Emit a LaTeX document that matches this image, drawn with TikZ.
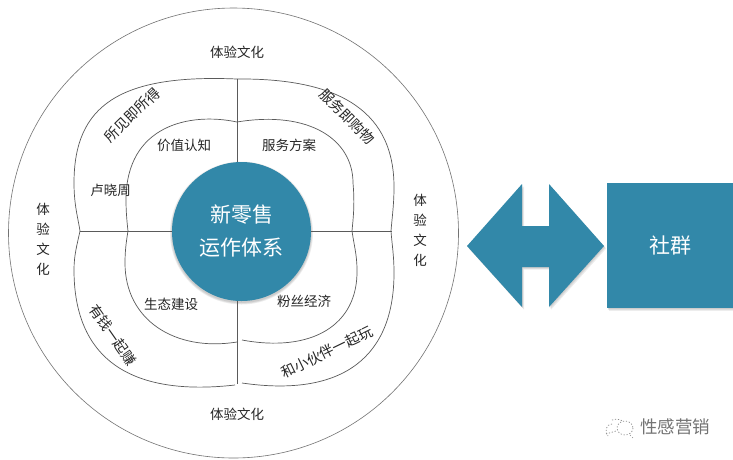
\documentclass[tikz,border=0pt]{standalone}
\usepackage{fontspec}
\setmainfont{Noto Sans CJK SC}
\definecolor{teal1}{HTML}{3288A9}
\definecolor{ln}{HTML}{5A5A5A}
\tikzset{
  x=1pt,y=-1pt,
  lbl/.style={font=\fontsize{13.5}{15}\selectfont,text=black!85,inner sep=0pt},
  rlbl/.style={font=\fontsize{14.2}{15}\selectfont,text=black!85,inner sep=0pt},
  big/.style={font=\fontsize{21}{34}\selectfont,text=white,align=center},
  curve/.style={draw=ln,line width=0.7pt},
  spoke/.style={draw=ln,line width=0.8pt},
  sh1/.style={fill=black,opacity=0.07,draw=none},
  fillt/.style={fill=teal1,draw=none}
}
\begin{document}
\begin{tikzpicture}
\useasboundingbox (0,0) rectangle (733,459);
\fill[white] (0,0) rectangle (733,459);
% outer circle
\node[circle,draw=ln!85,line width=0.6pt,minimum size=450pt,inner sep=0pt] (outer) at (233.5,233) {};
% central shadow and disc
\foreach \d in {5,3,1}{\fill[sh1] (241.5,233) circle (69.5+\d*0.4);}
\node[circle,fillt,minimum size=139pt,inner sep=0pt,big] (core) at (241.5,231.5) {新零售\\[-1pt]运作体系};
% junction coordinates
\coordinate (T) at (237,79);
\coordinate (B) at (237,384);
\coordinate (L) at (80,231);
\coordinate (R) at (392,231);
\coordinate (CT) at (237,162);
\coordinate (CB) at (237,301);
\coordinate (CL) at (172,231);
\coordinate (CR) at (311,231);
% spokes
\draw[spoke] (CT) -- (T);
\draw[spoke] (CB) -- (B);
\draw[spoke] (CL) -- (L);
\draw[spoke] (CR) -- (R);
% outer quadrants
\draw[curve] (T) .. controls (120,74) and (74,105) .. (74,183) .. controls (74,205) and (78,218) .. (80,231);
\draw[curve] (T) .. controls (345,78) and (394,115) .. (394,187) .. controls (394,205) and (392,218) .. (391,231);
\draw[curve] (391,231) .. controls (392,245) and (394,255) .. (394,273) .. controls (394,355) and (345,398) .. (242,383);
\draw[curve] (L) .. controls (77,245) and (74,255) .. (74,270) .. controls (74,350) and (120,398) .. (235,385);
% inner quadrants
\draw[curve] (237,122) .. controls (190,112) and (126,125) .. (126,200) .. controls (126,212) and (127,222) .. (128,231);
\draw[curve] (237,122) .. controls (310,110) and (353,140) .. (353,183) .. controls (355,205) and (353,220) .. (352,231);
\draw[curve] (352,231) .. controls (354,245) and (357,255) .. (357,270) .. controls (358,325) and (312,353) .. (242,340);
\draw[curve] (128,231) .. controls (126,243) and (125,252) .. (125,263) .. controls (125,320) and (175,352) .. (237,342);
% labels
\node[lbl] (t1) at (237,52.5) {体验文化};
\node[lbl] (t2) at (237,414) {体验文化};
\node[lbl,align=center,font=\fontsize{13.5}{20}\selectfont] (t3) at (43,239) {体\\验\\文\\化};
\node[lbl,align=center,font=\fontsize{13.5}{20}\selectfont] (t4) at (420,230) {体\\验\\文\\化};
\node[rlbl,rotate=44] (a1) at (132,115) {所见即所得};
\node[rlbl,rotate=-45] (a2) at (347,117) {服务即购物};
\node[rlbl,rotate=-55] (a3) at (113,335) {有钱一起赚};
\node[rlbl,rotate=26] (a4) at (327,352) {和小伙伴一起玩};
\node[lbl] (b0) at (110.5,190) {卢晓周};
\node[lbl] (b1) at (184,145) {价值认知};
\node[lbl] (b2) at (289,145) {服务方案};
\node[lbl] (b3) at (171,304) {生态建设};
\node[lbl] (b4) at (304,301) {粉丝经济};
% double arrow
\def\arrowpath{(467,246) -- (522,184) -- (522,226) -- (549,226) -- (549,184) -- (604,246) -- (549,307) -- (549,267) -- (522,267) -- (522,307) -- cycle}
\foreach \d in {3,2,1}{\fill[sh1,shift={(\d*0.7,\d*0.9)}] \arrowpath;}
\fill[fillt] \arrowpath;
% square
\foreach \d in {3,2,1}{\fill[sh1] (607+\d*0.5,183+\d) rectangle (733,308+\d);}
\node[fillt,minimum width=126pt,minimum height=125pt,inner sep=0pt,anchor=north west,font=\fontsize{21}{23}\selectfont,text=white] (sq) at (607,183) {社群};
% watermark
\node[font=\fontsize{17.5}{19}\selectfont,text=black!55,inner sep=0pt] (wm) at (675,427) {性感营销};
\draw[black!45,line width=0.7pt,dash pattern=on 1.2pt off 1.8pt] (625,428) ellipse (8 and 7);
\draw[black!45,line width=0.7pt,dash pattern=on 1.2pt off 1.8pt] (612,424) .. controls (606,424) and (604,432) .. (608,436) (612,420) .. controls (618,418) and (622,420) .. (623,422);
\draw[black!45,line width=0.7pt,dash pattern=on 1.2pt off 1.8pt] (606,434) -- (616,431) (630,435) -- (633,438);
\end{tikzpicture}
\end{document}
